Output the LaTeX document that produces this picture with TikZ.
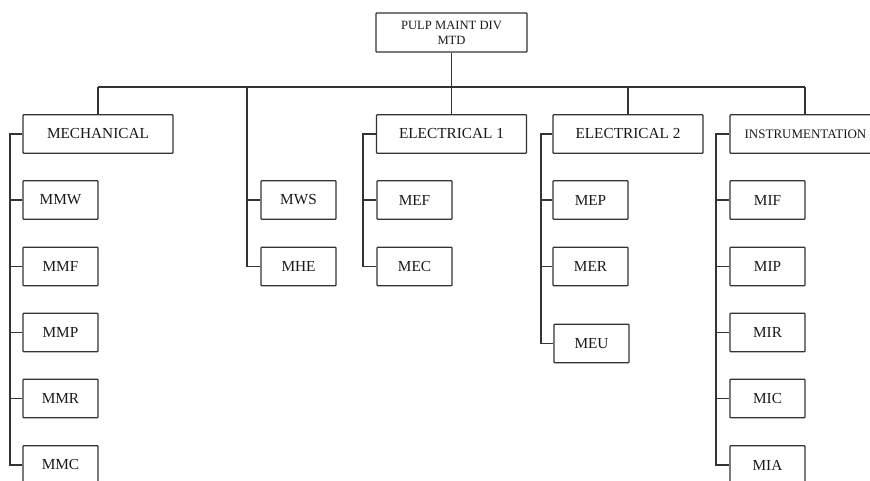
\documentclass[tikz,border=0pt]{standalone}
\usepackage{fontspec}
\setmainfont{Liberation Serif}
\begin{document}
\begin{tikzpicture}[x=1pt,y=-1pt,
  line width=1.3pt,
  box/.style={draw=black!80, rounded corners=0.8pt, inner sep=0pt, font=\fontsize{15.3}{17}\selectfont, text=black!90},
  small/.style={box, minimum width=75pt, minimum height=38.5pt},
  big/.style={box, minimum width=150pt, minimum height=38.5pt},
  link/.style={draw=black!80, line width=1.3pt}]
\useasboundingbox (0,0) rectangle (870,480);
\clip (0,0) rectangle (870,480);
% top
\node[box, minimum width=151pt, minimum height=39pt, align=center, font=\fontsize{12.6}{15}\selectfont] (top) at (451.5,32.5) {PULP MAINT DIV\\MTD};
% main boxes
\node[big] (mech) at (98,134) {MECHANICAL};
\node[big] (e1) at (451.5,134) {ELECTRICAL 1};
\node[big] (e2) at (628,134) {ELECTRICAL 2};
\node[big, font=\fontsize{13}{15}\selectfont] (ins) at (805,134) {\hspace*{1pt}INSTRUMENTATION};
% coordinates
\coordinate (bus) at (0,87);
\coordinate (c2) at (247,87);
\coordinate (s1) at (10,0);
\coordinate (s3) at (363,0);
\coordinate (s4) at (541,0);
\coordinate (s5) at (716,0);
% mechanical children
\node[small] (mmw) at (60.5,200) {MMW};
\node[small] (mmf) at (60.5,266.5) {MMF};
\node[small] (mmp) at (60.5,332.5) {MMP};
\node[small] (mmr) at (60.5,398.5) {MMR};
\node[small] (mmc) at (60.5,465) {MMC};
% column 2
\node[small] (mws) at (298.5,200) {MWS};
\node[small] (mhe) at (298.5,266.5) {MHE};
% electrical 1
\node[small] (mef) at (414.5,200) {MEF};
\node[small] (mec) at (414.5,266.5) {MEC};
% electrical 2
\node[small] (mep) at (590.5,200) {MEP};
\node[small] (mer) at (590.5,266.5) {MER};
\node[small] (meu) at (591.5,343.5) {MEU};
% instrumentation
\node[small] (mif) at (767.5,200) {MIF};
\node[small] (mip) at (767.5,266.5) {MIP};
\node[small] (mir) at (767.5,332.5) {MIR};
\node[small] (mic) at (767.5,398.5) {MIC};
\node[small] (mia) at (767.5,465) {MIA};
% bus
\draw[link] (top.south) -- (top.south |- bus);
\draw[link] (mech.north |- bus) -- (ins.north |- bus);
\draw[link] (mech.north |- bus) -- (mech.north);
\draw[link] (e1.north |- bus) -- (e1.north);
\draw[link] (e2.north |- bus) -- (e2.north);
\draw[link] (ins.north |- bus) -- (ins.north);
% mechanical spine
\draw[link] (mech.west) -- (mech.west -| s1) |- (mmc.west);
\foreach \n in {mmw,mmf,mmp,mmr} \draw[link] (\n.west) -- (\n.west -| s1);
% column 2
\draw[link] (c2) |- (mhe.west);
\draw[link] (mws.west) -- (mws.west -| c2);
% electrical 1
\draw[link] (e1.west) -- (e1.west -| s3) |- (mec.west);
\draw[link] (mef.west) -- (mef.west -| s3);
% electrical 2
\draw[link] (e2.west) -- (e2.west -| s4) |- (meu.west);
\foreach \n in {mep,mer} \draw[link] (\n.west) -- (\n.west -| s4);
% instrumentation
\draw[link] (ins.west) -- (ins.west -| s5) |- (mia.west);
\foreach \n in {mif,mip,mir,mic} \draw[link] (\n.west) -- (\n.west -| s5);
\end{tikzpicture}
\end{document}
